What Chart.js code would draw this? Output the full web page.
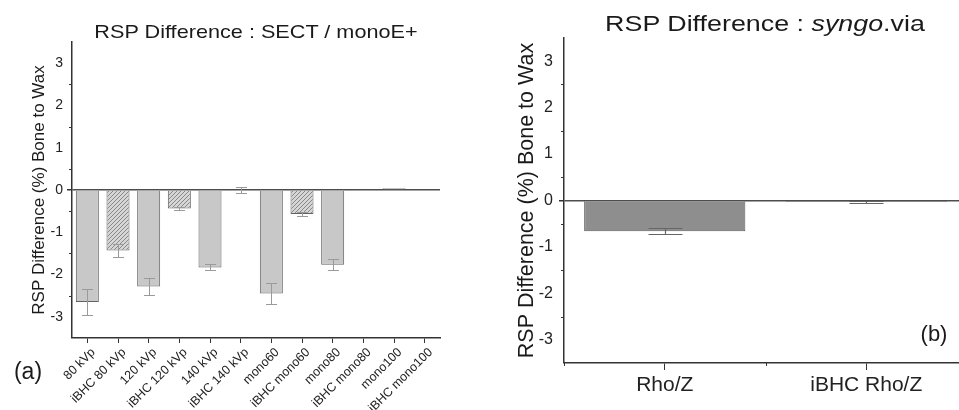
<!DOCTYPE html>
<html>
<head>
<meta charset="utf-8">
<script src="https://cdn.jsdelivr.net/npm/chart.js@4.4.0/dist/chart.umd.min.js"></script>
<style>
  body { margin: 0; background: #fff; font-family: "Liberation Sans", Arial, sans-serif; }
  #wrap { position: relative; width: 959px; height: 410px; overflow: hidden; }
  #boxA { position: absolute; left: 0; top: 0; width: 480px; height: 410px; }
  #boxB { position: absolute; left: 480px; top: 0; width: 479px; height: 410px; overflow: hidden; }
  .txt { position: absolute; white-space: nowrap; line-height: 1; color: #1a1a1a; transform: translate(-50%, -50%); }
</style>
</head>
<body>
<div id="wrap">
  <div id="boxA"><canvas id="chartA" width="480" height="410"></canvas></div>
  <div id="boxB"><canvas id="chartB" width="500" height="410"></canvas></div>
  <div class="txt" id="titleA" style="left:256px;top:31px;font-size:19px;transform:translate(-50%,-50%) scaleX(1.14)">RSP Difference : SECT / monoE+</div>
  <div class="txt" id="titleB" style="left:765px;top:24px;font-size:22px;transform:translate(-50%,-50%) scaleX(1.22)">RSP Difference : <i>syngo</i>.via</div>
  <div class="txt" style="left:28px;top:371px;font-size:23px">(a)</div>
  <div class="txt" style="left:934px;top:334px;font-size:22px">(b)</div>
</div>
<script>
// panel (a): SECT / monoE+
const labelsA = ['80 kVp', 'iBHC 80 kVp', '120 kVp', 'iBHC 120 kVp', '140 kVp', 'iBHC 140 kVp',
                 'mono60', 'iBHC mono60', 'mono80', 'iBHC mono80', 'mono100', 'iBHC mono100'];
const valuesA = [-2.65, -1.43, -2.28, -0.44, -1.83, -0.01, -2.45, -0.57, -1.77, -0.01, 0.04, 0.0];
const errorsA = [0.30, 0.16, 0.20, 0.03, 0.07, 0.07, 0.25, 0.04, 0.13, 0.0, 0.0, 0.0];

// panel (b): syngo.via
const labelsB = ['Rho/Z', 'iBHC Rho/Z'];
const valuesB = [-0.66, -0.03];
const errorsB = [0.065, 0.02];

// shared y axis
const yTicks = [-3, -2, -1, 0, 1, 2, 3];
const yMinor = [-2.5, -1.5, -0.5, 0.5, 1.5, 2.5];
const yLabel = 'RSP Difference (%) Bone to Wax';

const FONT = '"Liberation Sans", Arial, sans-serif';

function hatchPattern() {
    const c = document.createElement('canvas');
    c.width = 4; c.height = 4;
    const g = c.getContext('2d');
    g.fillStyle = '#d6d6d6';
    g.fillRect(0, 0, 4, 4);
    g.strokeStyle = '#747474';
    g.lineWidth = 0.8;
    g.beginPath();
    g.moveTo(0, 4); g.lineTo(4, 0);
    g.moveTo(-2, 2); g.lineTo(2, -2);
    g.moveTo(2, 6); g.lineTo(6, 2);
    g.stroke();
    return g.createPattern(c, 'repeat');
}

// draws error bars from plugin options
const errorBars = {
    id: 'errorBars',
    afterDatasetsDraw(chart, args, opts) {
        const ctx = chart.ctx;
        const y = chart.scales.y;
        const ds = chart.data.datasets[0];
        const meta = chart.getDatasetMeta(0);
        ctx.save();
        ctx.strokeStyle = opts.color;
        ctx.lineWidth = opts.width;
        meta.data.forEach((bar, i) => {
            const e = opts.errors[i];
            if (!e) return;
            const v = ds.data[i];
            const x = Math.round(bar.x) + 0.5;
            const y1 = Math.round(y.getPixelForValue(v + e)) + 0.5;
            const y2 = Math.round(y.getPixelForValue(v - e)) + 0.5;
            const h = opts.cap / 2;
            ctx.beginPath();
            ctx.moveTo(x, y1); ctx.lineTo(x, y2);
            ctx.moveTo(x - h, y1); ctx.lineTo(x + h, y1);
            ctx.moveTo(x - h, y2); ctx.lineTo(x + h, y2);
            ctx.stroke();
        });
        ctx.restore();
    }
};

// small ticks between the labelled ones
const minorTicks = {
    id: 'minorTicks',
    afterDraw(chart, args, opts) {
        const ctx = chart.ctx;
        const y = chart.scales.y, x = chart.scales.x;
        ctx.save();
        ctx.strokeStyle = '#333';
        ctx.lineWidth = 1;
        ctx.beginPath();
        yMinor.forEach(v => {
            const py = Math.round(y.getPixelForValue(v)) + 0.5;
            ctx.moveTo(y.right - opts.len, py);
            ctx.lineTo(y.right, py);
        });
        if (opts.xBounds) {
            const n = chart.data.labels.length;
            const step = n > 1 ? x.getPixelForValue(1) - x.getPixelForValue(0) : x.width;
            for (let i = 0; i <= n; i++) {
                const px = Math.round(x.getPixelForValue(0) + (i - 0.5) * step) + 0.5;
                ctx.moveTo(px, x.top);
                ctx.lineTo(px, x.top + opts.len);
            }
        }
        ctx.stroke();
        ctx.restore();
    }
};

function yScale(fontSize, titleSize, titlePad, width, tickPad) {
    return {
        min: -3.5,
        max: 3.5,
        afterBuildTicks: s => { s.ticks = yTicks.map(v => ({ value: v })); },
        afterFit: s => { s.width = width; },
        border: { display: true, color: '#333', width: 1.5 },
        grid: {
            drawOnChartArea: true,
            color: c => (c.tick && c.tick.value === 0) ? '#4d4d4d' : 'rgba(0,0,0,0)',
            lineWidth: c => (c.tick && c.tick.value === 0) ? 1.5 : 0,
            tickColor: '#333',
            tickLength: 5
        },
        ticks: { color: '#222', padding: tickPad, font: { family: FONT, size: fontSize } },
        title: { display: true, text: yLabel, color: '#1a1a1a', padding: { top: titlePad, bottom: 0 },
                 font: { family: FONT, size: titleSize } }
    };
}

const hatch = hatchPattern();

new Chart(document.getElementById('chartA'), {
    type: 'bar',
    data: {
        labels: labelsA,
        datasets: [{
            data: valuesA,
            backgroundColor: labelsA.map(l => l.startsWith('iBHC') ? hatch : '#c8c8c8'),
            borderColor: '#636363',
            borderWidth: 1,
            barPercentage: 0.75,
            categoryPercentage: 1.0
        }]
    },
    options: {
        responsive: false,
        animation: false,
        layout: { padding: { left: 0, top: 42, right: 40, bottom: 0 } },
        plugins: {
            legend: { display: false },
            tooltip: { enabled: false },
            errorBars: { errors: errorsA, color: '#9a9a9a', width: 1, cap: 11 },
            minorTicks: { len: 3, xBounds: false }
        },
        scales: {
            x: {
                afterFit: s => { s.height = 72; },
                border: { display: true, color: '#333', width: 1.5 },
                grid: { drawOnChartArea: false, offset: false, tickColor: '#333', tickLength: 5 },
                ticks: { color: '#222', minRotation: 45, maxRotation: 45, autoSkip: false, padding: 2,
                         labelOffset: 6, font: { family: FONT, size: 12.5 } }
            },
            y: yScale(14, 17, 29, 72, 4)
        }
    },
    plugins: [errorBars, minorTicks]
});

new Chart(document.getElementById('chartB'), {
    type: 'bar',
    data: {
        labels: labelsB,
        datasets: [{
            data: valuesB,
            backgroundColor: '#8e8e8e',
            borderColor: '#5a5a5a',
            borderWidth: 1,
            barPercentage: 0.8,
            categoryPercentage: 1.0
        }]
    },
    options: {
        responsive: false,
        animation: false,
        layout: { padding: { left: 0, top: 38, right: 13, bottom: 0 } },
        plugins: {
            legend: { display: false },
            tooltip: { enabled: false },
            errorBars: { errors: errorsB, color: '#666', width: 1.2, cap: 34 },
            minorTicks: { len: 3, xBounds: true }
        },
        scales: {
            x: {
                afterFit: s => { s.height = 47; },
                border: { display: true, color: '#333', width: 1.5 },
                grid: { drawOnChartArea: false, offset: false, tickColor: '#333', tickLength: 7 },
                ticks: { color: '#222', padding: 3, font: { family: FONT, size: 21 } }
            },
            y: yScale(16, 21.5, 34, 84, 6)
        }
    },
    plugins: [errorBars, minorTicks]
});
</script>
</body>
</html>
